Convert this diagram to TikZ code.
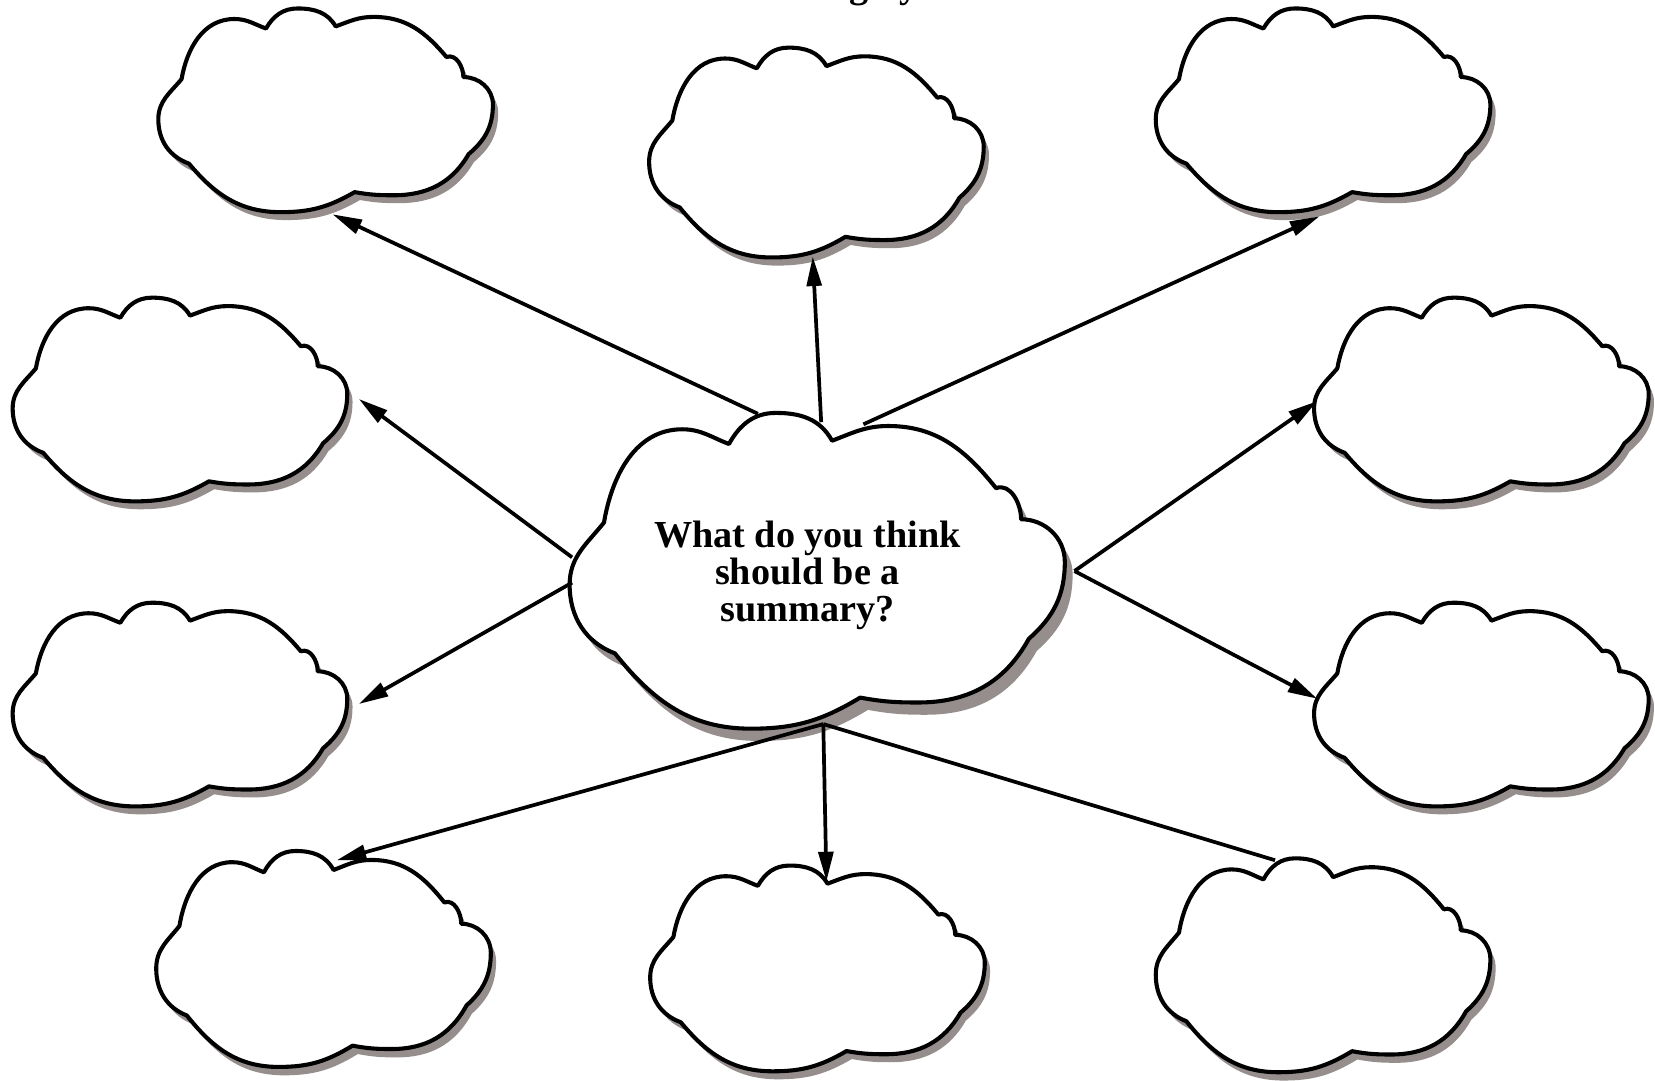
\documentclass[tikz,border=0pt]{standalone}
\usepackage{fontspec}
\setmainfont{Liberation Serif}
\usetikzlibrary{arrows.meta}

\definecolor{shadowgray}{RGB}{150,141,141}
\newcommand\bubblepath{(-2.60,-1.02) to[out=160,in=-90] (-3.18,-0.18) to[out=90,in=-130] (-2.74,0.58)
  to[out=80,in=180] (-1.74,1.72) to[out=0,in=160] (-1.14,1.54)
  to[out=60,in=180] (-0.54,1.92) to[out=0,in=120] (0.18,1.58)
  to[out=20,in=180] (0.90,1.76) to[out=0,in=130] (2.28,1.00)
  to[out=20,in=90] (2.60,0.62)
  to[out=0,in=90] (3.16,0.10) to[out=-90,in=40] (2.70,-0.84)
  to[out=-120,in=0] (1.28,-1.62) to[out=180,in=-10] (0.54,-1.56)
  to[out=-150,in=0] (-0.86,-1.94) to[out=180,in=-50] (-2.60,-1.02) -- cycle}

\begin{document}
\begin{tikzpicture}[
  puff/.style={draw=black,fill=white,line width=2.2pt,line join=round},
  link/.style={line width=2pt},
  linkarrow/.style={link,-{Triangle[length=5.6mm,width=2.8mm]}},
  hubtext/.style={align=center,font=\fontsize{20.6}{19.8}\selectfont\bfseries},
  pics/bubble/.style={code={
    \fill[shadowgray,shift={(0.1,-0.15)}] \bubblepath;
    \draw[puff] \bubblepath;
  }}
]
\useasboundingbox (0,0) rectangle (31.36,-20.48);

% title, mostly cut off at the top edge
\node[font=\fontsize{20.6}{24}\selectfont\bfseries,anchor=base] (title) at (14.84,0.05) {Summarizing by};

% cloud centres
\path (15.50,-10.80) coordinate (hub);
\path (6.18,-2.08) coordinate (tl);
\path (15.48,-2.88) coordinate (tm);
\path (25.08,-2.08) coordinate (tr);
\path (3.42,-7.56) coordinate (l1);
\path (3.42,-13.34) coordinate (l2);
\path (28.08,-7.56) coordinate (r1);
\path (28.08,-13.34) coordinate (r2);
\path (6.14,-18.16) coordinate (bl);
\path (15.50,-18.34) coordinate (bm);
\path (25.08,-18.28) coordinate (br);

% clouds
\pic[xscale=1.48,yscale=1.55] at (hub) {bubble};
\pic at (tl) {bubble};
\pic[yscale=1.03] at (tm) {bubble};
\pic at (tr) {bubble};
\pic at (l1) {bubble};
\pic at (l2) {bubble};
\pic at (r1) {bubble};
\pic at (r2) {bubble};
\pic[yscale=1.06] at (bl) {bubble};
\pic[yscale=1.01] at (bm) {bubble};
\pic[yscale=1.05] at (br) {bubble};

\node[hubtext] (question) at (15.30,-10.90) {What do you think\\should be a\\summary?};

% arrow ends
\path (14.36,-7.84) coordinate (out-tl);
\path (15.56,-8.00) coordinate (out-tm);
\path (16.36,-8.04) coordinate (out-tr);
\path (10.84,-10.56) coordinate (out-w1);
\path (10.84,-11.04) coordinate (out-w2);
\path (20.36,-10.82) coordinate (out-e);
\path (15.60,-13.72) coordinate (out-s);
\path (6.30,-4.06) coordinate (in-tl);
\path (15.40,-4.86) coordinate (in-tm);
\path (25.00,-4.10) coordinate (in-tr);
\path (6.80,-7.56) coordinate (in-l1);
\path (6.80,-13.34) coordinate (in-l2);
\path (24.96,-7.60) coordinate (in-r1);
\path (24.96,-13.24) coordinate (in-r2);
\path (6.38,-16.30) coordinate (in-bl);
\path (15.66,-16.70) coordinate (in-bm);
\path (24.16,-16.30) coordinate (in-br);

\draw[linkarrow] (out-tl) -- (in-tl);
\draw[linkarrow] (out-tm) -- (in-tm);
\draw[linkarrow] (out-tr) -- (in-tr);
\draw[linkarrow] (out-w1) -- (in-l1);
\draw[linkarrow] (out-w2) -- (in-l2);
\draw[linkarrow] (out-e) -- (in-r1);
\draw[linkarrow] (out-e) -- (in-r2);
\draw[linkarrow] (out-s) -- (in-bl);
\draw[linkarrow] (out-s) -- (in-bm);
\draw[link] (out-s) -- (in-br);
\end{tikzpicture}
\end{document}
